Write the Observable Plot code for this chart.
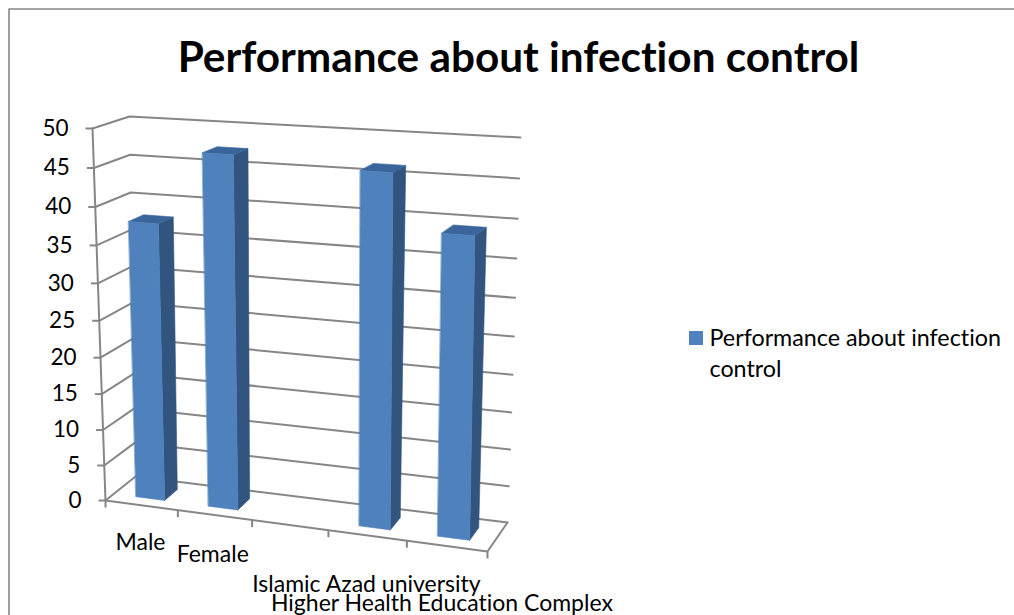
<!DOCTYPE html>
<html>
<head>
<meta charset="utf-8">
<script src="https://cdn.jsdelivr.net/npm/d3@7"></script>
<script src="https://cdn.jsdelivr.net/npm/@observablehq/plot@0.6"></script>
<style>html,body{margin:0;padding:0;background:#fff}svg{display:block}svg text{font-variant-ligatures:none}</style>
</head>
<body>
<div id="chart"></div>
<script>
// ---------- data ----------
const chartTitle = "Performance about infection control";
const categories = ["Male", "Female", "", "Islamic Azad university", "Higher Health Education Complex"];
const values = [37.8, 47.3, null, 46.4, 39.4];
const valueTicks = [0, 5, 10, 15, 20, 25, 30, 35, 40, 45, 50];
const legendLines = ["Performance about infection", "control"];

// ---------- layout of the 3D box (camera, not data) ----------
const box = {
  back:  {b0: [135, 476], b1: [507, 522], t0: [129, 116], t1: [520, 137]},
  front: {b0: [105, 500], b1: [487, 551], t0: [92, 128],  t1: [493, 154]}
};
const labelDrop = [37, 40, 0, 49, 58];
const labelShift = [-1, -2, 0, -1, -5];
const vMax = 50, barFrom = 0.31, barTo = 0.71, depthFrom = 0.28, depthTo = 0.72;
const persp = (t, r) => t / (t + r * (1 - t));
const mix = (a, b, t) => a + (b - a) * t;
function project(cat, depth, val) {
  const u = persp(cat / categories.length, 1.07);
  const v = persp(val / vMax, 1.07);
  const at = (f) => {
    const bx = mix(f.b0[0], f.b1[0], u), by = mix(f.b0[1], f.b1[1], u);
    const tx = mix(f.t0[0], f.t1[0], u), ty = mix(f.t0[1], f.t1[1], u);
    return [mix(bx, tx, v), mix(by, ty, v)];
  };
  const a = at(box.back), b = at(box.front);
  return {x: mix(a[0], b[0], depth), y: mix(a[1], b[1], depth)};
}

// ---------- derived tables ----------
const n = categories.length;
const grid = valueTicks.flatMap((t) => [
  {t, ...project(0, 1, t)}, {t, ...project(0, 0, t)}, {t, ...project(n, 0, t)}
]);
const floorEdge = [project(0, 1, 0), project(n, 1, 0), project(n, 0, 0)];
const axisEdge = [project(0, 1, 0), project(0, 1, vMax)];
const valueTickRows = valueTicks.map((t) => ({t, ...project(0, 1, t)}));
const catTicks = d3.range(n + 1).map((i) => ({i, ...project(i, 1, 0)}));
const catLabels = categories.map((c, i) => {
  const p = project(i + 0.5, 1, 0);
  return {c, x: p.x + labelShift[i], y: p.y + labelDrop[i]};
}).filter((d) => d.c);

const face = (kind) => values.flatMap((val, i) => {
  if (val == null) return [];
  const a = i + barFrom, b = i + barTo, f = depthTo, k = depthFrom;
  const corners = {
    front: [[a, f, 0], [b, f, 0], [b, f, val], [a, f, val]],
    side:  [[b, f, 0], [b, k, 0], [b, k, val], [b, f, val]],
    top:   [[a, f, val], [b, f, val], [b, k, val], [a, k, val]]
  }[kind];
  return corners.map((c) => ({bar: i, ...project(...c)}));
});

const poly = (kind, color) => Plot.line(face(kind), {
  x: "x", y: "y", z: "bar", curve: "linear-closed",
  fill: color, stroke: color, strokeWidth: 0.6
});

const frame = [{x: 8.5, y: 615}, {x: 8.5, y: 8.5}, {x: 1014, y: 8.5}];
const gray = "#868686";
const font = "Lato, 'Open Sans', sans-serif";

const plot = Plot.plot({
  width: 1014, height: 615,
  marginTop: 0, marginRight: 0, marginBottom: 0, marginLeft: 0,
  x: {domain: [0, 1014], range: [0, 1014], axis: null},
  y: {domain: [0, 615], range: [0, 615], axis: null},
  style: {background: "#fff", fontFamily: font},
  marks: [
    Plot.line(frame, {x: "x", y: "y", stroke: "#868686", strokeWidth: 1.6}),
    Plot.text([chartTitle], {x: () => 518, y: () => 58, text: (d) => d, fontSize: 42.3, fontWeight: 700, fill: "#000", textAnchor: "middle", fontFamily: font}),
    Plot.line(grid, {x: "x", y: "y", z: "t", stroke: gray, strokeWidth: 2}),
    Plot.line(axisEdge, {x: "x", y: "y", stroke: gray, strokeWidth: 2}),
    Plot.line(floorEdge, {x: "x", y: "y", stroke: gray, strokeWidth: 2}),
    Plot.link(valueTickRows, {x1: (d) => d.x - 7, y1: "y", x2: "x", y2: "y", stroke: gray, strokeWidth: 2}),
    Plot.link(catTicks, {x1: "x", y1: "y", x2: "x", y2: (d) => d.y + 7, stroke: gray, strokeWidth: 2}),
    poly("side", "#31557f"),
    poly("top", "#3a659a"),
    poly("front", "#4f81bd"),
    Plot.text(valueTickRows, {x: "x", y: "y", dx: -24, text: (d) => String(d.t), textAnchor: "end", fontSize: 22.5, fill: "#000", fontFamily: font}),
    Plot.text(catLabels, {x: "x", y: "y", text: "c", textAnchor: "middle", fontSize: 23, fill: "#000", fontFamily: font}),
    Plot.rect([legendLines[0]], {x1: () => 689, x2: () => 703, y1: () => 331, y2: () => 345, fill: "#4f81bd"}),
    Plot.text(legendLines, {x: () => 709, y: (d, i) => 338 + 31 * i, text: (d) => d, textAnchor: "start", fontSize: 23.3, fill: "#000", fontFamily: font})
  ]
});
document.getElementById("chart").append(plot);
</script>
</body>
</html>
